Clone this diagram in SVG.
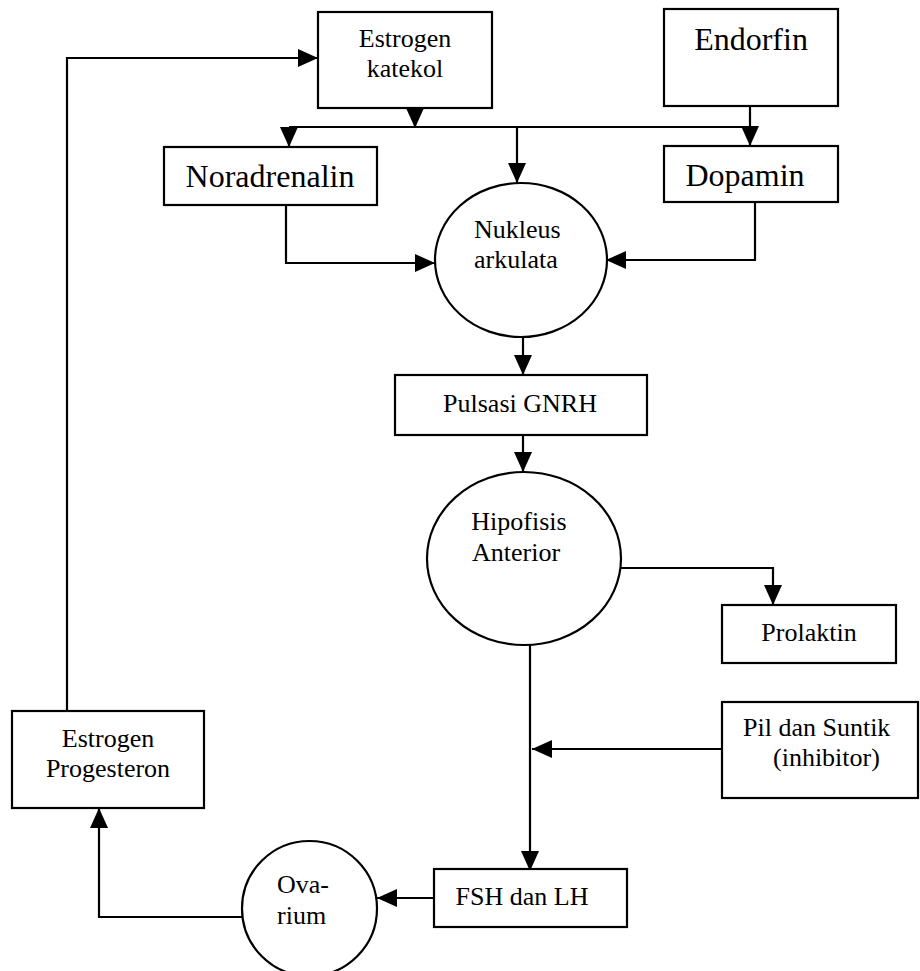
<svg xmlns="http://www.w3.org/2000/svg" width="920" height="971" viewBox="0 0 920 971">
<style>
.box{fill:#fff;stroke:#000;stroke-width:2.2}
.c{fill:none;stroke:#000;stroke-width:2.2}
.t{font-family:"Liberation Serif","Times New Roman",serif;fill:#000}
.s{font-size:26px}
.b{font-size:32px}
.m{text-anchor:middle}
</style>
<defs>
<marker id="ar" viewBox="0 0 20 18" refX="20" refY="9" markerWidth="20" markerHeight="18" orient="auto" markerUnits="userSpaceOnUse">
<path d="M0,0 L20,9 L0,18 z" fill="#000"/>
</marker>
</defs>
<rect width="920" height="971" fill="#fff"/>
<g id="connectors" class="c">
<path class="c" d="M67,711 V58 H318" marker-end="url(#ar)"/>
<path class="c" d="M415,108 V128" marker-end="url(#ar)"/>
<path class="c" d="M289,127 H750"/>
<path class="c" d="M289,127 V147" marker-end="url(#ar)"/>
<path class="c" d="M517,127 V183" marker-end="url(#ar)"/>
<path class="c" d="M750,106 V146" marker-end="url(#ar)"/>
<path class="c" d="M286,205 V263 H435" marker-end="url(#ar)"/>
<path class="c" d="M755,202 V260 H606" marker-end="url(#ar)"/>
<path class="c" d="M523,337 V375" marker-end="url(#ar)"/>
<path class="c" d="M523,435 V472" marker-end="url(#ar)"/>
<path class="c" d="M621,568 H773 V605" marker-end="url(#ar)"/>
<path class="c" d="M530,645 V871" marker-end="url(#ar)"/>
<path class="c" d="M722,749 H532" marker-end="url(#ar)"/>
<path class="c" d="M434,898 H377" marker-end="url(#ar)"/>
<path class="c" d="M242,917 H99 V808" marker-end="url(#ar)"/>
</g>
<g id="estrogen-katekol">
<rect class="box" x="318" y="12" width="174" height="96"/>
<text class="t s m" x="405" y="47">Estrogen</text>
<text class="t s m" x="405" y="77">katekol</text>
</g>
<g id="endorfin">
<rect class="box" x="664" y="9" width="174" height="97"/>
<text class="t b m" x="751" y="50">Endorfin</text>
</g>
<g id="noradrenalin">
<rect class="box" x="164" y="147" width="213" height="58"/>
<text class="t b m" x="270" y="187">Noradrenalin</text>
</g>
<g id="dopamin">
<rect class="box" x="664" y="146" width="174" height="56"/>
<text class="t b m" x="745" y="186">Dopamin</text>
</g>
<g id="nukleus-arkulata">
<ellipse class="box" cx="521" cy="260" rx="86" ry="77"/>
<text class="t s" x="474" y="238">Nukleus</text>
<text class="t s" x="474" y="268">arkulata</text>
</g>
<g id="pulsasi-gnrh">
<rect class="box" x="395" y="375" width="252" height="60"/>
<text class="t s m" x="520" y="412">Pulsasi GNRH</text>
</g>
<g id="hipofisis-anterior">
<ellipse class="box" cx="524" cy="558.5" rx="97" ry="86.5"/>
<text class="t s m" x="519" y="530">Hipofisis</text>
<text class="t s m" x="516" y="561">Anterior</text>
</g>
<g id="prolaktin">
<rect class="box" x="722" y="605" width="174" height="58"/>
<text class="t s m" x="809" y="641">Prolaktin</text>
</g>
<g id="pil-suntik">
<rect class="box" x="722" y="702" width="196" height="96"/>
<text class="t s" x="743" y="736">Pil dan Suntik</text>
<text class="t s" x="773" y="766">(inhibitor)</text>
</g>
<g id="fsh-lh">
<rect class="box" x="434" y="869" width="193" height="58"/>
<text class="t s m" x="522" y="905">FSH dan LH</text>
</g>
<g id="ovarium">
<ellipse class="box" cx="309.5" cy="908.5" rx="67.5" ry="67.5"/>
<text class="t s" x="277" y="893">Ova-</text>
<text class="t s" x="277" y="924">rium</text>
</g>
<g id="estrogen-progesteron">
<rect class="box" x="12" y="711" width="192" height="97"/>
<text class="t s m" x="108" y="747">Estrogen</text>
<text class="t s m" x="108" y="777">Progesteron</text>
</g>
</svg>
